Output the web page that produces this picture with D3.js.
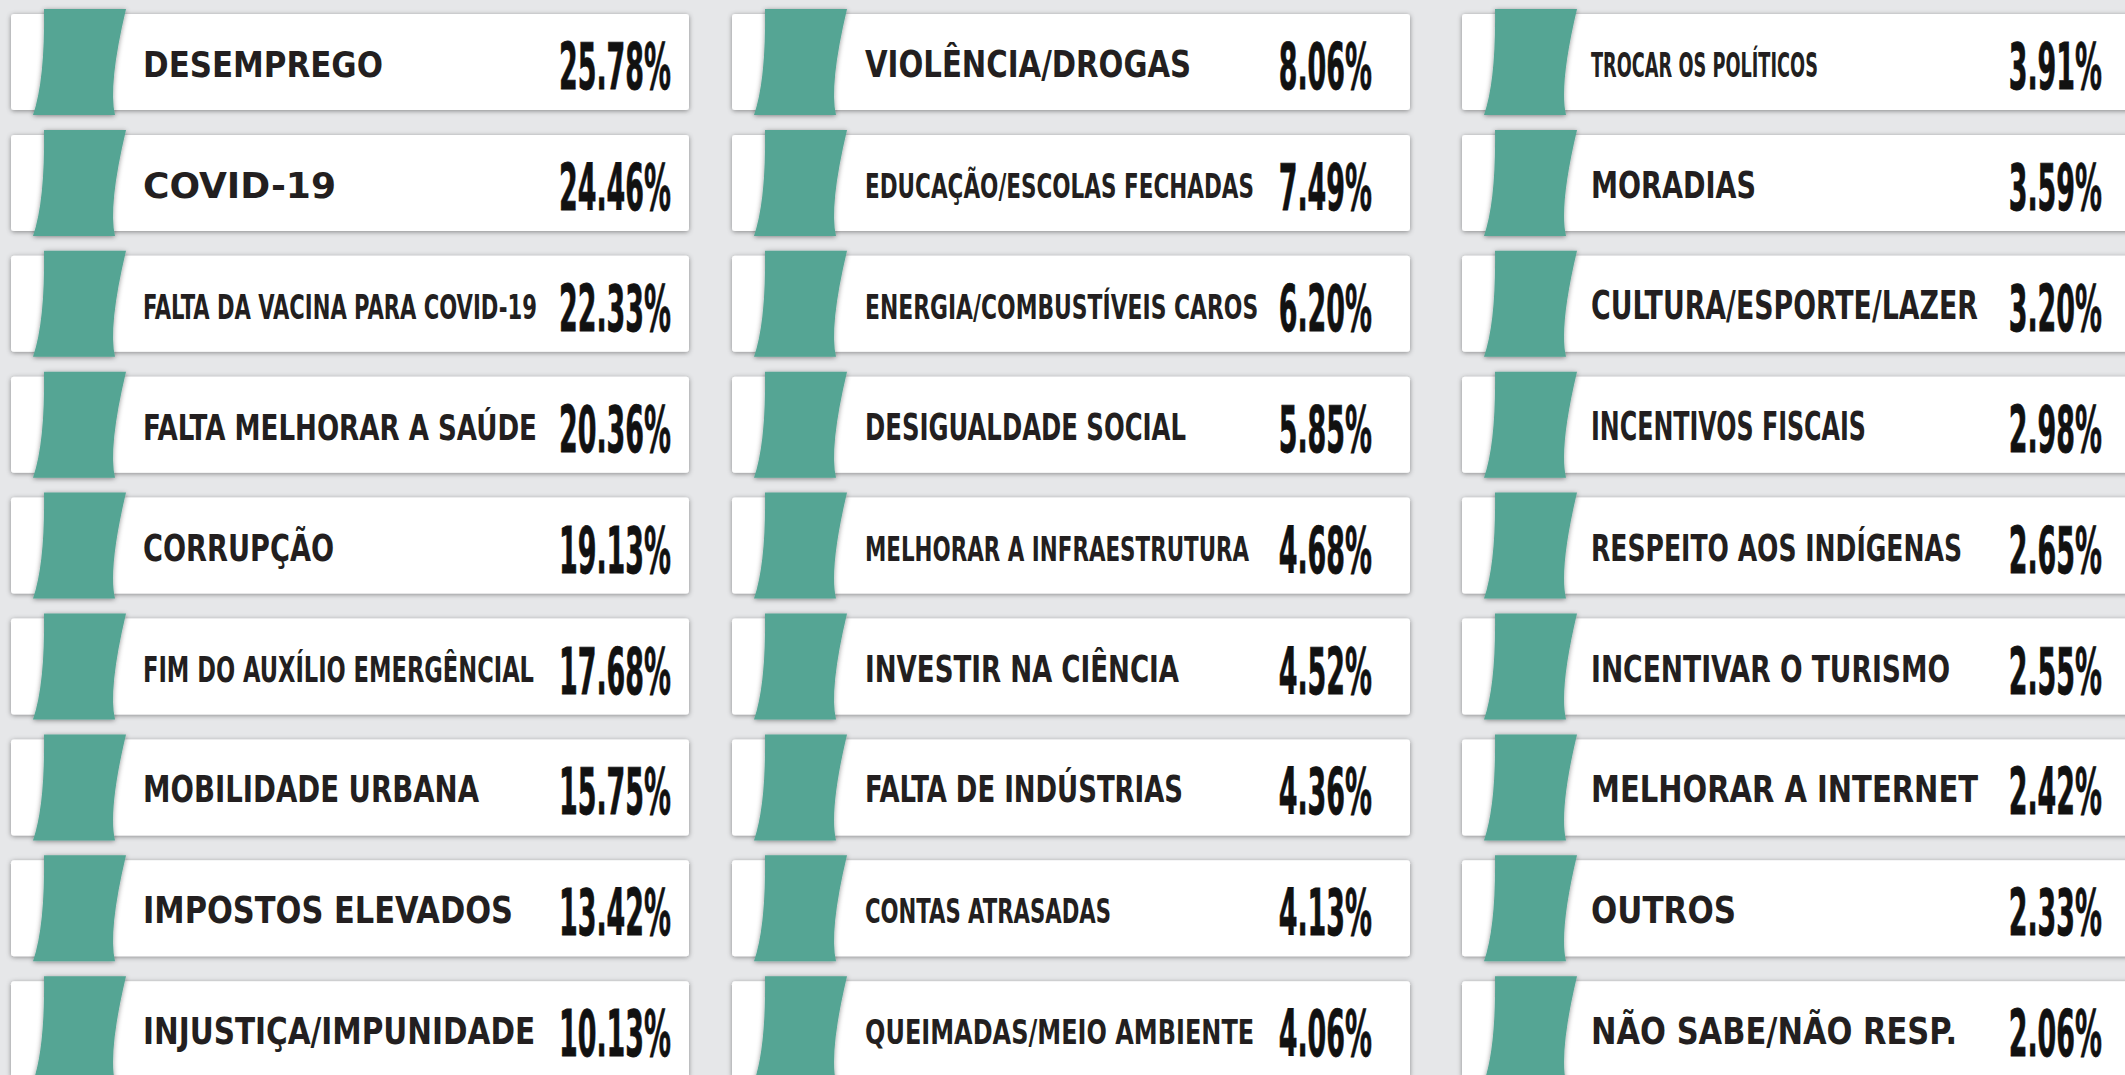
<!DOCTYPE html>
<html>
<head>
<meta charset="utf-8">
<script src="https://cdn.jsdelivr.net/npm/d3@7"></script>
<style>
body { margin: 0; background: #e6e7e9; }
svg { display: block; }
</style>
</head>
<body>
<script>
// data, one array per column
var col1Labels = ["DESEMPREGO", "COVID-19", "FALTA DA VACINA PARA COVID-19", "FALTA MELHORAR A SAÚDE",
                  "CORRUPÇÃO", "FIM DO AUXÍLIO EMERGÊNCIAL", "MOBILIDADE URBANA", "IMPOSTOS ELEVADOS",
                  "INJUSTIÇA/IMPUNIDADE"];
var col1Values = [25.78, 24.46, 22.33, 20.36, 19.13, 17.68, 15.75, 13.42, 10.13];

var col2Labels = ["VIOLÊNCIA/DROGAS", "EDUCAÇÃO/ESCOLAS FECHADAS", "ENERGIA/COMBUSTÍVEIS CAROS",
                  "DESIGUALDADE SOCIAL", "MELHORAR A INFRAESTRUTURA", "INVESTIR NA CIÊNCIA",
                  "FALTA DE INDÚSTRIAS", "CONTAS ATRASADAS", "QUEIMADAS/MEIO AMBIENTE"];
var col2Values = [8.06, 7.49, 6.20, 5.85, 4.68, 4.52, 4.36, 4.13, 4.06];

var col3Labels = ["TROCAR OS POLÍTICOS", "MORADIAS", "CULTURA/ESPORTE/LAZER", "INCENTIVOS FISCAIS",
                  "RESPEITO AOS INDÍGENAS", "INCENTIVAR O TURISMO", "MELHORAR A INTERNET", "OUTROS",
                  "NÃO SABE/NÃO RESP."];
var col3Values = [3.91, 3.59, 3.20, 2.98, 2.65, 2.55, 2.42, 2.33, 2.06];

// layout / style (kept apart from the data)
var WIDTH = 2125;
var HEIGHT = 1075;
var CARD_W = 678;
var labelLeft = [132, 133, 129];
var valueRight = [660, 640, 640];
var labelWidths = [[240, 193, 394, 394, 191, 391, 336, 370, 392],
                   [326, 389, 393, 321, 384, 314, 318, 246, 389],
                   [227, 165, 387, 275, 371, 359, 387, 145, 366]];
var labelCaps = [[25, 25, 24, 25, 26, 25, 26, 26, 26],
                 [26, 24, 24, 26, 24, 26, 26, 23, 24],
                 [23, 26, 27, 27, 26, 26, 26, 26, 26]];

var columns = [[col1Labels, col1Values], [col2Labels, col2Values], [col3Labels, col3Values]];
var items = [];
columns.forEach(function(c, ci) {
	c[0].forEach(function(lab, ri) {
		items.push({ col: ci, row: ri, label: lab, value: c[1][ri] });
	});
});

var rowY = d3.scaleBand().domain(d3.range(9)).range([14, 1077.2]).paddingInner(0.206);
var colX = d3.scaleOrdinal().domain([0, 1, 2]).range([11, 732, 1462]);
var H = rowY.bandwidth();
var fmt = d3.format(".2f");

var svg = d3.select("body")
	.append("svg")
	.attr("width", WIDTH)
	.attr("height", HEIGHT);

var defs = svg.append("defs");
defs.append("filter")
	.attr("id", "sh")
	.attr("x", "-10%").attr("y", "-30%").attr("width", "120%").attr("height", "160%")
	.append("feDropShadow")
	.attr("dx", 0).attr("dy", 1)
	.attr("stdDeviation", 2.6)
	.attr("flood-color", "#000")
	.attr("flood-opacity", 0.42);

svg.append("rect")
	.attr("width", WIDTH).attr("height", HEIGHT)
	.attr("fill", "#e6e7e9");

// white cards
svg.append("g").selectAll("rect")
	.data(items)
	.enter()
	.append("rect")
	.attr("x", function(d) { return colX(d.col); })
	.attr("y", function(d) { return rowY(d.row); })
	.attr("width", CARD_W)
	.attr("height", H)
	.attr("rx", 3)
	.attr("fill", "#ffffff")
	.attr("filter", "url(#sh)");

// green ribbon tabs
var tabPath = function(d) {
	var x = colX(d.col), y = rowY(d.row);
	var p = d3.path();
	p.moveTo(x + 33, y - 5);
	p.lineTo(x + 115, y - 5);
	p.quadraticCurveTo(x + 97, y + 71, x + 104, y + H + 5);
	p.lineTo(x + 22, y + H + 5);
	p.quadraticCurveTo(x + 34, y + 66, x + 33, y - 5);
	p.closePath();
	return p.toString();
};

svg.append("g").selectAll("path")
	.data(items)
	.enter()
	.append("path")
	.attr("d", tabPath)
	.attr("fill", "#55a594")
	.attr("filter", "url(#sh)");

var FONT = "'Liberation Sans Narrow', 'DejaVu Sans Condensed', 'Liberation Sans', Arial, sans-serif";

// squeeze/stretch a text horizontally to a target width, anchored at (x, y)
var fitText = function(sel, xFn, yFn, wFn) {
	sel.each(function(d) {
		var w = this.getComputedTextLength();
		var sx = wFn(d, w) / w;
		d3.select(this).attr("transform",
			"translate(" + xFn(d) + "," + yFn(d) + ") scale(" + sx + ",1)");
	});
};

// labels
var labels = svg.append("g").selectAll("text")
	.data(items)
	.enter()
	.append("text")
	.attr("font-family", FONT)
	.attr("font-weight", "bold")
	.attr("font-size", function(d) { return labelCaps[d.col][d.row] / 0.7; })
	.attr("fill", "#231f20")
	.text(function(d) { return d.label; });

fitText(labels,
	function(d) { return colX(d.col) + labelLeft[d.col]; },
	function(d) { return rowY(d.row) + 63; },
	function(d) { return labelWidths[d.col][d.row]; });

// values
var VALUE_SIZE = 45 / 0.7;
var probe = svg.append("text")
	.attr("font-family", FONT).attr("font-weight", "bold")
	.attr("font-size", VALUE_SIZE)
	.text("00.00%");
var squeeze = 112 / probe.node().getComputedTextLength();
probe.remove();

var vals = svg.append("g").selectAll("text")
	.data(items)
	.enter()
	.append("text")
	.attr("text-anchor", "end")
	.attr("font-family", FONT)
	.attr("font-weight", "bold")
	.attr("font-size", VALUE_SIZE)
	.attr("fill", "#111")
	.attr("stroke", "#111")
	.attr("stroke-width", 0.8)
	.text(function(d) { return fmt(d.value) + "%"; });

fitText(vals,
	function(d) { return colX(d.col) + valueRight[d.col]; },
	function(d) { return rowY(d.row) + 75; },
	function(d, w) { return w * squeeze; });
</script>
</body>
</html>
